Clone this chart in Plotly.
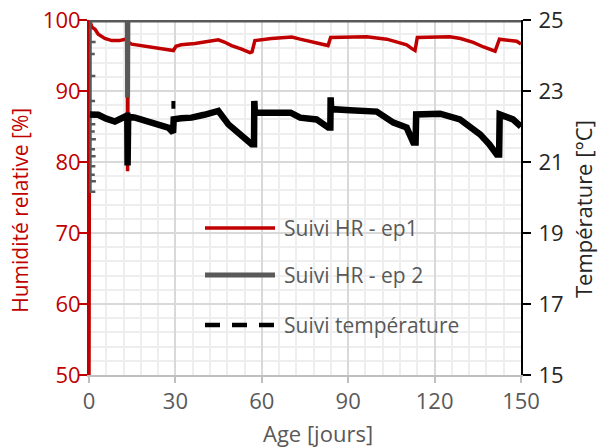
import plotly.graph_objects as go

# ---------------- data ----------------
days_ep1 = [0, 0.2, 0.5, 1.0, 2.1, 3.2, 5.5, 7.9, 10.5, 12.8, 13.3, 13.4, 13.6, 14.8, 18, 21.8, 25.5,
            29.3, 30.2, 32, 36.8, 41, 44.9, 47, 49.5, 53, 55.9, 56.6, 57.6, 63.4, 70.4, 73.3, 77, 80.2,
            83.0, 83.9, 90, 96.4, 103.4, 107, 110.3, 112, 113.2, 114.0, 120, 125.3, 129, 133.4, 137,
            141.0, 142.5, 145, 148.5, 150]
hr_ep1 = [50, 100, 99.6, 99.0, 98.7, 98.0, 97.4, 97.1, 97.1, 97.3, 97.2, 78.7, 96.9, 96.6, 96.4, 96.1, 95.9,
          95.7, 96.3, 96.5, 96.7, 96.9, 97.2, 96.9, 96.4, 95.9, 95.4, 95.5, 97.1, 97.4, 97.6, 97.3, 97.0, 96.7,
          96.4, 97.55, 97.6, 97.65, 97.3, 96.9, 96.5, 96.0, 95.7, 97.55, 97.6, 97.65, 97.4, 96.85, 96.2,
          95.6, 97.3, 97.2, 97.0, 96.6]

# HR ep2: initial noisy rise near day 0, then saturated at 100 % with one drop near day 13
days_ep2_rise = [0.5, 2.2, 0.5, 0.5, 2.4, 0.5, 0.5, 2.0, 0.5, 0.5, 2.2, 0.5, 0.5, 2.3, 0.5,
                 0.5, 2.1, 0.5, 0.5, 2.4, 0.5, 0.5, 2.0, 0.5, 0.5, 2.2, 0.5, 0.5, 2.3, 0.5,
                 0.5, 2.1, 0.5, 0.5, 2.2, 0.5, 0.5, 2.0, 0.5, 0.5, 2.3, 0.5, 0.5]
hr_ep2_rise = [75.8, 75.8, 75.8, 77.3, 77.3, 77.3, 78.2, 78.2, 78.2, 79.4, 79.4, 79.4, 80.8, 80.8, 80.8,
               81.8, 81.8, 81.8, 83.2, 83.2, 83.2, 84.3, 84.3, 84.3, 85.3, 85.3, 85.3, 86.4, 86.4, 86.4,
               88.6, 88.6, 88.6, 92.1, 92.1, 92.1, 95.2, 95.2, 95.2, 96.9, 96.9, 96.9, 100]
days_ep2 = [0.5, 13.3, 13.4, 13.5, 150]
hr_ep2 = [100, 100, 89.1, 100, 100]

temp_days = [0.3, 3.2, 6, 9, 13.1, 13.3, 13.4, 13.6, 16, 19.4, 23, 27.5, 29.2, 29.4, 32, 35.6, 40, 44.9,
             48.4, 53, 56.5, 57.3, 57.4, 57.6, 63, 70, 73.3, 79, 83.1, 83.8, 83.9, 84.1, 90.6, 99.9,
             105.7, 110.3, 112.6, 113.4, 113.6, 121.9, 128.8, 135.8, 139, 141.6, 142.4, 142.6, 147.2, 150]
temp_vals = [22.34, 22.33, 22.22, 22.14, 22.3, 22.3, 20.9, 22.28, 22.25, 22.16, 22.08, 21.97, 21.83, 22.2,
             22.23, 22.25, 22.33, 22.44, 22.06, 21.73, 21.5, 21.5, 22.72, 22.39, 22.39, 22.39, 22.25, 22.2,
             21.97, 21.97, 22.82, 22.49, 22.46, 22.42, 22.11, 21.97, 21.55, 21.55, 22.34, 22.36, 22.2,
             21.78, 21.5, 21.21, 21.21, 22.34, 22.2, 22.0]
temp_blip_days = [29.3, 29.3]
temp_blip_vals = [22.5, 22.72]

legend_labels = ["Suivi HR - ep1", "Suivi HR - ep 2", "Suivi température"]
x_title = "Age [jours]"
y_title = "Humidité relative [%]"
y2_title = "Température [°C]"

RED = "#c00000"
GREY = "#595959"
DARK = "#262626"
FONT = "Open Sans"

fig = go.Figure()
fig.add_trace(go.Scatter(x=days_ep1, y=hr_ep1, mode="lines", name=legend_labels[0],
                         line=dict(color=RED, width=3.5), showlegend=False))
fig.add_trace(go.Scatter(x=days_ep2_rise, y=hr_ep2_rise, mode="lines", name=legend_labels[1],
                         line=dict(color=GREY, width=2.5), showlegend=False))
fig.add_trace(go.Scatter(x=days_ep2, y=hr_ep2, mode="lines", name=legend_labels[1],
                         line=dict(color=GREY, width=5), showlegend=False))
fig.add_trace(go.Scatter(x=temp_days, y=temp_vals, mode="lines", name=legend_labels[2], yaxis="y2",
                         line=dict(color="black", width=6.5), showlegend=False))
fig.add_trace(go.Scatter(x=temp_blip_days, y=temp_blip_vals, mode="lines", yaxis="y2",
                         line=dict(color="black", width=4), showlegend=False))

# manual legend (long line samples as in the reference)
leg_rows = [(0.414, RED, 3.5, "solid"), (0.282, GREY, 5, "solid"), (0.141, "black", 4.5, "15px,12px")]
for (yy, col, w, dash), lab in zip(leg_rows, legend_labels):
    fig.add_shape(type="line", xref="paper", yref="paper", x0=0.2685, x1=0.4306, y0=yy, y1=yy,
                  line=dict(color=col, width=w, dash=dash))
    fig.add_annotation(xref="paper", yref="paper", x=0.447, y=yy, text=lab, showarrow=False,
                       xanchor="left", yanchor="middle", font=dict(family=FONT, size=21, color=GREY))

# axis titles placed as in the reference
fig.add_annotation(xref="paper", yref="paper", x=0.530, y=-0.164, text=x_title, showarrow=False,
                   xanchor="center", yanchor="middle", font=dict(family=FONT, size=22, color=GREY))
fig.add_annotation(xref="paper", yref="paper", x=-0.160, y=0.465, text=y_title, showarrow=False,
                   textangle=-90, xanchor="center", yanchor="middle",
                   font=dict(family=FONT, size=21, color=RED))
fig.add_annotation(xref="paper", yref="paper", x=1.144, y=0.468, text=y2_title, showarrow=False,
                   textangle=-90, xanchor="center", yanchor="middle",
                   font=dict(family=FONT, size=22, color=DARK))

fig.update_layout(
    width=600, height=448,
    margin=dict(l=89, r=79, t=20, b=73),
    paper_bgcolor="white", plot_bgcolor="white",
    font=dict(family=FONT),
    xaxis=dict(range=[0, 150], tick0=0, dtick=30, showgrid=True, gridcolor="#d9d9d9", gridwidth=1.5,
               minor=dict(dtick=6, showgrid=True, gridcolor="#eeeeee", gridwidth=1.5),
               showline=True, linecolor="#bfbfbf", linewidth=2, ticks="outside", ticklen=6,
               tickcolor="#bfbfbf", tickwidth=2, zeroline=False, automargin=False,
               ticklabeloverflow="allow", tickfont=dict(size=22, color=GREY)),
    yaxis=dict(range=[50, 100], tick0=50, dtick=10, showgrid=True, gridcolor="#d9d9d9", gridwidth=1.5,
               minor=dict(dtick=2, showgrid=True, gridcolor="#eeeeee", gridwidth=1.5),
               showline=True, linecolor=RED, linewidth=2, ticks="outside", ticklen=8,
               tickcolor=RED, tickwidth=2, zeroline=False, automargin=False, ticklabelstandoff=-6,
               ticklabeloverflow="allow", tickfont=dict(size=22, color=RED)),
    yaxis3=dict(range=[50, 100], tick0=50, dtick=10, overlaying="y", side="left", anchor="x",
                showgrid=False, showline=False, ticks="inside", ticklen=8, tickcolor=RED, tickwidth=2,
                showticklabels=False, zeroline=False, automargin=False),
    yaxis2=dict(range=[15, 25], tick0=15, dtick=2, overlaying="y", side="right", showgrid=False,
                showline=True, linecolor="black", linewidth=2, ticks="outside", ticklen=8,
                tickcolor="black", tickwidth=2, zeroline=False, automargin=False, ticklabelstandoff=3,
                ticklabeloverflow="allow", tickfont=dict(size=22, color=DARK)),
)

# remove the default 8px page margin so the 600x448 figure fills the window exactly
fig.write_html("out.html", config={"displayModeBar": False},
               post_script="document.body.style.margin='0';")
